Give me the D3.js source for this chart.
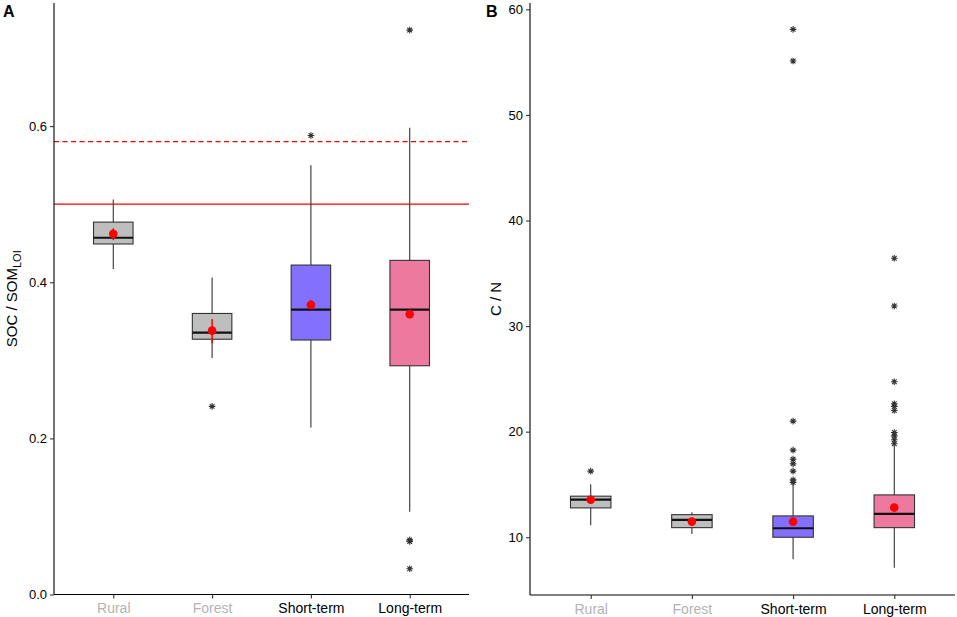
<!DOCTYPE html>
<html lang="en">
<head>
    <meta charset="UTF-8">
    <title>SOC / SOM and C / N by land use</title>
    <script src="https://d3js.org/d3.v7.min.js"></script>
    <style>
        body { margin: 0; background: #fff; }
        svg { display: block; font-family: "Liberation Sans", Arial, sans-serif; }
    </style>
</head>
<body>
    <svg id="chart" width="957" height="617"></svg>

    <script>
        // categories and fills
        const categories = ["Rural", "Forest", "Short-term", "Long-term"];
        const labelColors = ["#b3b3b3", "#b3b3b3", "#000", "#000"];
        const fills = ["#bebebe", "#bebebe", "#8470ff", "#ee799f"];

        // panel A: SOC / SOM_LOI
        const socLow = [0.417, 0.303, 0.214, 0.106];
        const socQ1 = [0.449, 0.327, 0.326, 0.293];
        const socMedian = [0.457, 0.3355, 0.365, 0.365];
        const socQ3 = [0.477, 0.360, 0.422, 0.428];
        const socHigh = [0.506, 0.406, 0.550, 0.598];
        const socMean = [0.462, 0.338, 0.371, 0.359];
        const socErrLo = [0.454, 0.322, 0.366, 0.354];
        const socErrHi = [0.469, 0.353, 0.377, 0.365];
        const socOutliers = [[], [0.241], [0.588], [0.723, 0.070, 0.068, 0.033]];
        const socTicks = [0.0, 0.2, 0.4, 0.6];
        const socRefSolid = 0.5;
        const socRefDashed = 0.58;

        // panel B: C / N
        const cnLow = [11.14, 10.31, 7.91, 7.12];
        const cnQ1 = [12.78, 10.91, 10.0, 10.91];
        const cnMedian = [13.57, 11.64, 10.85, 12.21];
        const cnQ3 = [13.89, 12.14, 12.02, 14.01];
        const cnHigh = [15.03, 12.37, 15.1, 18.6];
        const cnMean = [13.55, 11.48, 11.48, 12.81];
        const cnErrLo = [13.25, 11.3, 11.3, 12.6];
        const cnErrHi = [13.85, 11.66, 11.66, 13.02];
        const cnOutliers = [
            [16.26],
            [],
            [58.1, 55.1, 21.0, 18.25, 17.4, 16.95, 16.26, 15.43, 15.2],
            [36.42, 31.9, 24.73, 22.64, 22.38, 22.0, 19.92, 19.6, 19.23, 18.85]
        ];
        const cnTicks = [10, 20, 30, 40, 50, 60];

        const svg = d3.select("#chart");

        // 8-spoke asterisk like ggplot shape 8
        function asterisk(r) {
            const d = r * Math.SQRT1_2;
            return `M0,${-r}L0,${r}M${-r},0L${r},0M${-d},${-d}L${d},${d}M${-d},${d}L${d},${-d}`;
        }

        function panel(opt) {
            const g = svg.append("g");
            const x = d3.scalePoint().domain(categories).range([opt.left, opt.right]).padding(0.6);
            const step = x.step();
            const bw = step * 0.4;
            const y = d3.scaleLinear().domain(opt.domain).range([opt.bottom, opt.top]);

            const rows = categories.map((c, i) => ({
                c, i, low: opt.low[i], q1: opt.q1[i], med: opt.median[i], q3: opt.q3[i],
                high: opt.high[i], mean: opt.mean[i], eLo: opt.errLo[i], eHi: opt.errHi[i]
            }));

            // reference lines
            (opt.refs || []).forEach(r => {
                g.append("line")
                    .attr("x1", opt.left).attr("x2", opt.right)
                    .attr("y1", y(r.value)).attr("y2", y(r.value))
                    .attr("stroke", "#ff0000").attr("stroke-width", 1.3)
                    .attr("stroke-dasharray", r.dash);
            });

            // whiskers
            g.selectAll(".whisker").data(rows).enter().append("line")
                .attr("x1", d => x(d.c)).attr("x2", d => x(d.c))
                .attr("y1", d => y(d.low)).attr("y2", d => y(d.high))
                .attr("stroke", "#333").attr("stroke-width", 1.1);

            // boxes
            g.selectAll(".box").data(rows).enter().append("rect")
                .attr("x", d => x(d.c) - bw / 2)
                .attr("y", d => y(d.q3))
                .attr("width", bw)
                .attr("height", d => y(d.q1) - y(d.q3))
                .attr("fill", d => fills[d.i])
                .attr("stroke", "#333").attr("stroke-width", 1.1);

            // medians
            g.selectAll(".median").data(rows).enter().append("line")
                .attr("x1", d => x(d.c) - bw / 2).attr("x2", d => x(d.c) + bw / 2)
                .attr("y1", d => y(d.med)).attr("y2", d => y(d.med))
                .attr("stroke", "#111").attr("stroke-width", 2.2);

            // outliers
            const outs = [];
            opt.outliers.forEach((arr, i) => arr.forEach(v => outs.push({ c: categories[i], v })));
            g.selectAll(".outlier").data(outs).enter().append("path")
                .attr("transform", d => `translate(${x(d.c)},${y(d.v)})`)
                .attr("d", asterisk(3.3))
                .attr("stroke", "#333").attr("stroke-width", 1.1).attr("fill", "none");

            // mean with error bar
            g.selectAll(".err").data(rows).enter().append("line")
                .attr("x1", d => x(d.c)).attr("x2", d => x(d.c))
                .attr("y1", d => y(d.eLo)).attr("y2", d => y(d.eHi))
                .attr("stroke", "#ff0000").attr("stroke-width", 1.5);
            g.selectAll(".mean").data(rows).enter().append("circle")
                .attr("cx", d => x(d.c)).attr("cy", d => y(d.mean))
                .attr("r", 4.3).attr("fill", "#ff0000");

            // axes
            const yAxis = g.append("g")
                .attr("transform", `translate(${opt.left},0)`)
                .call(d3.axisLeft(y).tickValues(opt.ticks).tickFormat(opt.format).tickSize(4).tickPadding(3));
            yAxis.select(".domain").attr("d", `M0,${opt.top}V${opt.bottom}`).attr("stroke", "#000").attr("stroke-width", 1.1);
            yAxis.selectAll(".tick line").attr("stroke", "#333").attr("stroke-width", 1.1);
            yAxis.selectAll(".tick text").attr("fill", "#000").style("font-size", "13px");

            const xAxis = g.append("g")
                .attr("transform", `translate(0,${opt.bottom})`)
                .call(d3.axisBottom(x).tickSize(4).tickPadding(5));
            xAxis.select(".domain").attr("d", `M${opt.left},0H${opt.right}`).attr("stroke", "#000").attr("stroke-width", 1.1);
            xAxis.selectAll(".tick line").attr("stroke", "#333").attr("stroke-width", 1.1);
            xAxis.selectAll(".tick text")
                .attr("fill", (d, i) => labelColors[i])
                .style("font-size", "14px");

            // y title
            const mid = (opt.top + opt.bottom) / 2;
            const t = svg.append("text")
                .attr("transform", `translate(${opt.titleX},${mid}) rotate(-90)`)
                .attr("text-anchor", "middle")
                .style("font-size", "15px");
            opt.title(t);

            // panel letter
            svg.append("text")
                .attr("x", opt.letterX).attr("y", 17)
                .style("font-size", "16px").style("font-weight", "bold")
                .text(opt.letter);
        }

        panel({
            left: 54, right: 469, top: 3, bottom: 594.5,
            domain: [0, 0.7577],
            low: socLow, q1: socQ1, median: socMedian, q3: socQ3, high: socHigh,
            mean: socMean, errLo: socErrLo, errHi: socErrHi, outliers: socOutliers,
            ticks: socTicks, format: d3.format(".1f"),
            refs: [{ value: socRefSolid, dash: null }, { value: socRefDashed, dash: "5,3.5" }],
            titleX: 17, letter: "A", letterX: 3,
            title: t => {
                t.append("tspan").text("SOC / SOM");
                t.append("tspan").attr("dy", 4).style("font-size", "11px").text("LOI");
            }
        });

        panel({
            left: 530, right: 955, top: 3, bottom: 595,
            domain: [4.53, 60.6],
            low: cnLow, q1: cnQ1, median: cnMedian, q3: cnQ3, high: cnHigh,
            mean: cnMean, errLo: cnErrLo, errHi: cnErrHi, outliers: cnOutliers,
            ticks: cnTicks, format: d3.format("d"),
            titleX: 501, letter: "B", letterX: 486,
            title: t => t.text("C / N")
        });
    </script>
</body>
</html>
